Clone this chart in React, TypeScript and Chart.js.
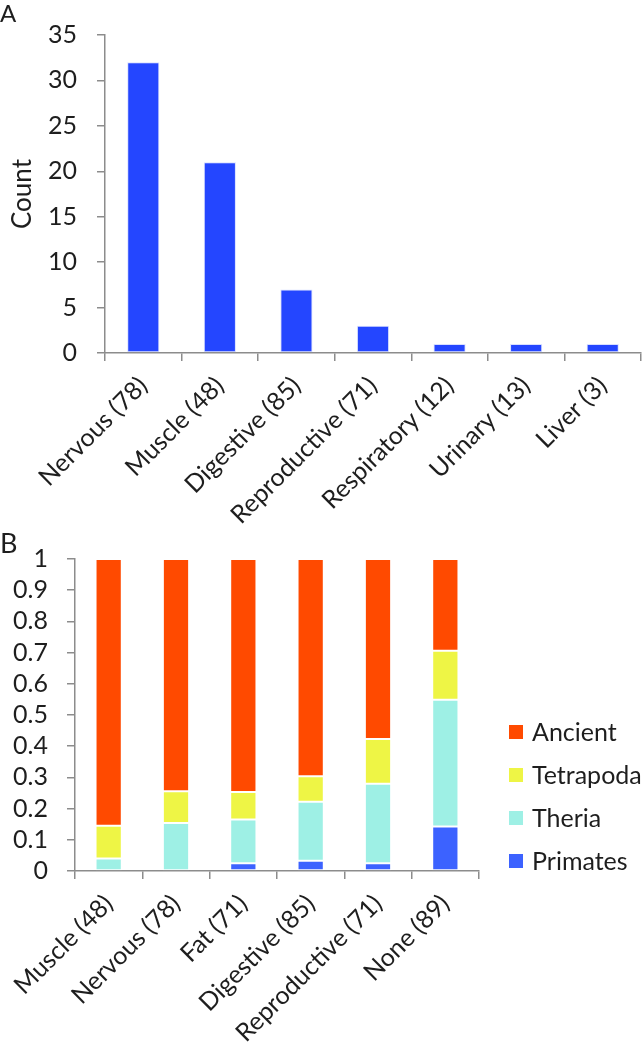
import React, { useEffect, useRef } from 'react';
import { Chart, registerables } from 'chart.js';

Chart.register(...registerables);

// ---------- Panel A data ----------
const tissuesA = ['Nervous (78)', 'Muscle (48)', 'Digestive (85)', 'Reproductive (71)', 'Respiratory (12)', 'Urinary (13)', 'Liver (3)'];
const countsA = [32, 21, 7, 3, 1, 1, 1];
const countMax = 35;
const countStep = 5;

// ---------- Panel B data ----------
const tissuesB = ['Muscle (48)', 'Nervous (78)', 'Fat (71)', 'Digestive (85)', 'Reproductive (71)', 'None (89)'];
const primates = [0, 0, 0.025, 0.033, 0.025, 0.143];
const theria = [0.04, 0.154, 0.14, 0.189, 0.255, 0.406];
const tetrapoda = [0.105, 0.102, 0.088, 0.082, 0.143, 0.157];
const ancient = [0.855, 0.744, 0.747, 0.696, 0.577, 0.294];
const fracMax = 1;
const fracStep = 0.1;

const FONT = 'Lato, "Open Sans", sans-serif';
const TEXT = '#1e1e1e';
const AXIS = '#8c8c8c';
const W = 642;
const HA = 548; // canvas A height (transparent, may overlap B's top margin)
const TOPB = 525;
const HB = 520;
const AXIS_A_Y = 353;
const AXIS_B_Y = 346;

const sideLegend = {
  id: 'sideLegend',
  afterDraw(chart: any, _args: any, opts: any) {
    if (!opts || !opts.display) return;
    const { ctx } = chart;
    const items = chart.data.datasets
      .map((d: any) => ({ label: d.label, color: d.backgroundColor }))
      .reverse();
    ctx.save();
    ctx.font = `${opts.fontSize}px ${FONT}`;
    ctx.textBaseline = 'middle';
    ctx.textAlign = 'left';
    items.forEach((it: any, i: number) => {
      const y = opts.top + i * opts.spacing;
      ctx.fillStyle = it.color;
      ctx.fillRect(opts.x, y, opts.box, opts.box);
      ctx.fillStyle = TEXT;
      ctx.fillText(it.label, opts.x + opts.box + opts.gap, y + opts.box / 2 + 1);
    });
    ctx.restore();
  },
};

function ChartA() {
  const ref = useRef<HTMLCanvasElement>(null);
  useEffect(() => {
    if (!ref.current) return;
    const chart = new Chart(ref.current, {
      type: 'bar',
      data: {
        labels: tissuesA,
        datasets: [
          {
            label: 'Count',
            data: countsA,
            backgroundColor: '#2446ff',
            borderColor: 'rgba(200,210,255,0.7)',
            borderWidth: 1,
            borderSkipped: false,
            categoryPercentage: 1,
            barPercentage: 0.42,
          },
        ],
      },
      options: {
        responsive: false,
        animation: false,
        devicePixelRatio: 1,
        layout: { padding: { top: 13, right: 1, left: 0, bottom: 0 } },
        plugins: { legend: { display: false }, tooltip: { enabled: false } },
        scales: {
          x: {
            grid: { offset: true, drawOnChartArea: false, drawTicks: true, tickLength: 8, color: AXIS, lineWidth: 1.5 },
            border: { color: AXIS, width: 1.5 },
            ticks: { minRotation: 45, maxRotation: 45, autoSkip: false, padding: 10, color: TEXT, font: { family: FONT, size: 25 } },
            afterFit: (s: any) => {
              s.height = HA - AXIS_A_Y;
            },
          },
          y: {
            min: 0,
            max: countMax,
            ticks: { stepSize: countStep, autoSkip: false, padding: 20, color: TEXT, font: { family: FONT, size: 25 } },
            grid: { drawOnChartArea: false, drawTicks: true, tickLength: 8, color: AXIS, lineWidth: 1.5 },
            border: { color: AXIS, width: 1.5 },
            title: { display: true, text: 'Count', color: TEXT, font: { family: FONT, size: 26 }, padding: { top: 7, bottom: 0 } },
            afterFit: (s: any) => {
              s.width = 105;
            },
          },
        },
      },
    });
    return () => chart.destroy();
  }, []);
  return <canvas ref={ref} width={W} height={HA} style={{ display: 'block' }} />;
}

function ChartB() {
  const ref = useRef<HTMLCanvasElement>(null);
  useEffect(() => {
    if (!ref.current) return;
    const common = { borderColor: 'rgba(255,255,255,0.6)', borderWidth: 1, borderSkipped: false, categoryPercentage: 1, barPercentage: 0.39 };
    const chart = new Chart(ref.current, {
      type: 'bar',
      data: {
        labels: tissuesB,
        datasets: [
          { label: 'Primates', data: primates, backgroundColor: '#3c62ff', ...common },
          { label: 'Theria', data: theria, backgroundColor: '#9ef0e5', ...common },
          { label: 'Tetrapoda', data: tetrapoda, backgroundColor: '#eef545', ...common },
          { label: 'Ancient', data: ancient, backgroundColor: '#ff4a00', ...common },
        ],
      },
      plugins: [sideLegend],
      options: {
        responsive: false,
        animation: false,
        devicePixelRatio: 1,
        layout: { padding: { top: 31, right: W - 479, left: 0, bottom: 0 } },
        plugins: {
          legend: { display: false },
          tooltip: { enabled: false },
          sideLegend: { display: true, x: 509, top: 200, spacing: 43, box: 14, gap: 9, fontSize: 25 },
        } as any,
        scales: {
          x: {
            stacked: true,
            grid: { offset: true, drawOnChartArea: false, drawTicks: true, tickLength: 8, color: AXIS, lineWidth: 1.5 },
            border: { color: AXIS, width: 1.5 },
            ticks: { minRotation: 45, maxRotation: 45, autoSkip: false, padding: 10, color: TEXT, font: { family: FONT, size: 25 } },
            afterFit: (s: any) => {
              s.height = HB - AXIS_B_Y;
            },
          },
          y: {
            stacked: true,
            min: 0,
            max: fracMax,
            ticks: {
              stepSize: fracStep,
              autoSkip: false,
              padding: 19,
              color: TEXT,
              font: { family: FONT, size: 25 },
              callback: (v: any) => String(+Number(v).toFixed(2)),
            },
            grid: { drawOnChartArea: false, drawTicks: true, tickLength: 8, color: AXIS, lineWidth: 1.5 },
            border: { color: AXIS, width: 1.5 },
            afterFit: (s: any) => {
              s.width = 75;
            },
          },
        },
      },
    });
    return () => chart.destroy();
  }, []);
  return <canvas ref={ref} width={W} height={HB} style={{ display: 'block' }} />;
}

export default function App() {
  const letter: React.CSSProperties = { position: 'absolute', left: 0, fontFamily: FONT, color: TEXT, lineHeight: 1, margin: 0 };
  return (
    <div style={{ position: 'absolute', left: 0, top: 0, width: W, height: TOPB + HB, background: '#fff', overflow: 'hidden' }}>
      <div style={{ position: 'absolute', left: 0, top: TOPB }}>
        <ChartB />
      </div>
      <div style={{ position: 'absolute', left: 0, top: 0 }}>
        <ChartA />
      </div>
      <div style={{ ...letter, top: 1, fontSize: 24 }}>A</div>
      <div style={{ ...letter, top: TOPB + 4, fontSize: 27 }}>B</div>
    </div>
  );
}
